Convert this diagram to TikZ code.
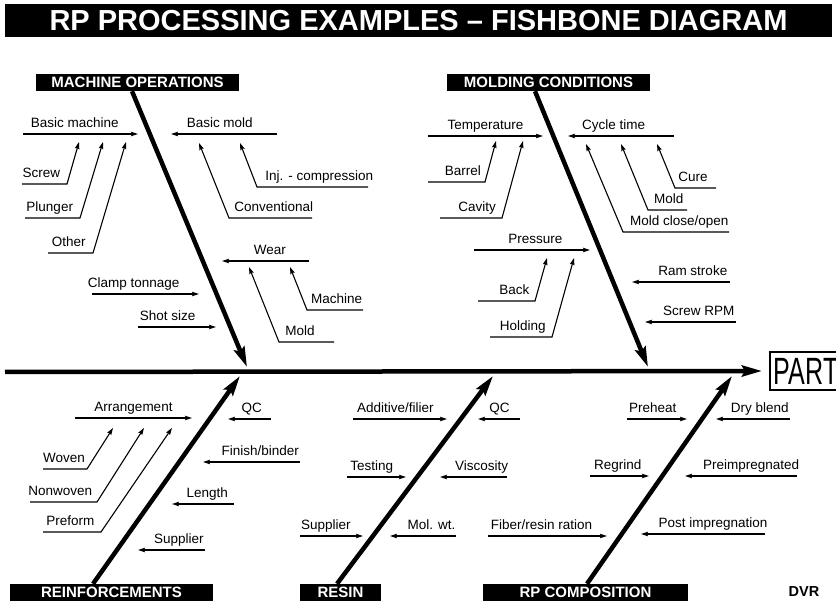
\documentclass[tikz,border=0pt]{standalone}
\usepackage{fontspec}
\setmainfont{Liberation Sans}
\usetikzlibrary{arrows.meta}

\tikzset{
  bone/.style={line width=4.5pt, -{Stealth[length=20pt, width=11pt, inset=3pt]}},
  cause/.style={line width=1.1pt, -{Stealth[length=7pt, width=4.5pt, inset=1pt]}},
  lbl/.style={anchor=base, yshift=6.5pt, inner sep=0pt, font=\fontsize{13.5}{16}\selectfont},
  heading/.style={fill=black, text=white, inner sep=0pt, minimum height=17pt,
    font=\bfseries\fontsize{15}{17}\selectfont},
}

\begin{document}
\begin{tikzpicture}[x=1pt, y=-1pt]
  \useasboundingbox (0,0) rectangle (836,601);

  % Title bar
  \node[heading, minimum width=827pt, minimum height=33pt,
    font=\bfseries\fontsize{29}{32}\selectfont] (title) at (418.5,20.5)
    {RP PROCESSING EXAMPLES -- FISHBONE DIAGRAM};

  % Spine and effect
  \coordinate (tail) at (5,372);
  \node[draw, line width=1.5pt, anchor=west, minimum height=38pt, inner xsep=4pt,
    font=\fontsize{38}{40}\selectfont] (part) at (769,371) {\scalebox{0.66}[1]{PART}};
  \draw[bone] (tail) -- ([xshift=-7pt]part.west);

  % Main categories
  \node[heading, minimum width=203pt] (machine) at (137.5,82.5) {MACHINE OPERATIONS};
  \node[heading, minimum width=203pt] (molding) at (548.5,82.5) {MOLDING CONDITIONS};
  \node[heading, minimum width=203pt] (reinf) at (111.5,592.5) {REINFORCEMENTS};
  \node[heading, minimum width=81pt] (resin) at (340.5,592.5) {RESIN};
  \node[heading, minimum width=205pt] (rpcomp) at (585.5,592.5) {RP COMPOSITION};
  \node[font=\bfseries\fontsize{14.5}{16}\selectfont] (dvr) at (804,592) {DVR};

  \coordinate (machine-tip) at (247,367);
  \coordinate (molding-tip) at (648,367);
  \coordinate (reinf-tip) at (240,376);
  \coordinate (resin-tip) at (493,376);
  \coordinate (rpcomp-tip) at (732,376);

  \draw[bone] ([xshift=-5.5pt]machine.south) -- (machine-tip);
  \draw[bone] ([xshift=-13.5pt]molding.south) -- (molding-tip);
  \draw[bone] ([xshift=-18.5pt]reinf.north) -- (reinf-tip);
  \draw[bone] ([xshift=-3.5pt]resin.north) -- (resin-tip);
  \draw[bone] ([xshift=1.5pt]rpcomp.north) -- (rpcomp-tip);

  % Machine operations
  \coordinate (bm-a) at (23,134); \coordinate (bm-b) at (138,134);
  \draw[cause] (bm-a) -- node[lbl, pos=.45] (bm) {Basic machine} (bm-b);
  \coordinate (scr-a) at (22,184); \coordinate (scr-b) at (67,184); \coordinate (scr-c) at (79,142);
  \draw[cause] (scr-a) -- node[lbl, pos=.43] (scr) {Screw} (scr-b) -- (scr-c);
  \coordinate (plu-a) at (25,218); \coordinate (plu-b) at (80,218); \coordinate (plu-c) at (103,142);
  \draw[cause] (plu-a) -- node[lbl, pos=.45] (plu) {Plunger} (plu-b) -- (plu-c);
  \coordinate (oth-a) at (48,253); \coordinate (oth-b) at (93,253); \coordinate (oth-c) at (126,142);
  \draw[cause] (oth-a) -- node[lbl, pos=.46] (oth) {Other} (oth-b) -- (oth-c);

  \coordinate (bmo-a) at (277,134); \coordinate (bmo-b) at (171,134);
  \draw[cause] (bmo-a) -- node[lbl, pos=.54] (bmo) {Basic mold} (bmo-b);
  \coordinate (inj-a) at (368,187); \coordinate (inj-b) at (257,187); \coordinate (inj-c) at (240,143);
  \draw[cause] (inj-a) -- node[lbl, pos=.44] (inj) {Inj. - compression} (inj-b) -- (inj-c);
  \coordinate (con-a) at (312,218); \coordinate (con-b) at (229,218); \coordinate (con-c) at (199,143);
  \draw[cause] (con-a) -- node[lbl, pos=.46] (con) {Conventional} (con-b) -- (con-c);

  \coordinate (wea-a) at (309,261); \coordinate (wea-b) at (222,261);
  \draw[cause] (wea-a) -- node[lbl, pos=.45] (wea) {Wear} (wea-b);
  \coordinate (wma-a) at (363,310); \coordinate (wma-b) at (307,310); \coordinate (wma-c) at (290,267);
  \draw[cause] (wma-a) -- node[lbl, pos=.47] (wma) {Machine} (wma-b) -- (wma-c);
  \coordinate (wmo-a) at (334,342); \coordinate (wmo-b) at (279,342); \coordinate (wmo-c) at (249,267);
  \draw[cause] (wmo-a) -- node[lbl, pos=.62] (wmo) {Mold} (wmo-b) -- (wmo-c);

  \coordinate (cla-a) at (92,294); \coordinate (cla-b) at (199,294);
  \draw[cause] (cla-a) -- node[lbl, pos=.39] (cla) {Clamp tonnage} (cla-b);
  \coordinate (sho-a) at (138,327); \coordinate (sho-b) at (216,327);
  \draw[cause] (sho-a) -- node[lbl, pos=.38] (sho) {Shot size} (sho-b);

  % Molding conditions
  \coordinate (tem-a) at (428,136); \coordinate (tem-b) at (543,136);
  \draw[cause] (tem-a) -- node[lbl, pos=.5] (tem) {Temperature} (tem-b);
  \coordinate (bar-a) at (428,182); \coordinate (bar-b) at (485,182); \coordinate (bar-c) at (496,141);
  \draw[cause] (bar-a) -- node[lbl, pos=.61] (bar) {Barrel} (bar-b) -- (bar-c);
  \coordinate (cav-a) at (440,218); \coordinate (cav-b) at (502,218); \coordinate (cav-c) at (523,141);
  \draw[cause] (cav-a) -- node[lbl, pos=.6] (cav) {Cavity} (cav-b) -- (cav-c);

  \coordinate (cyc-a) at (674,136); \coordinate (cyc-b) at (568,136);
  \draw[cause] (cyc-a) -- node[lbl, pos=.57] (cyc) {Cycle time} (cyc-b);
  \coordinate (cur-a) at (716,188); \coordinate (cur-b) at (675,188); \coordinate (cur-c) at (657,144);
  \draw[cause] (cur-a) -- node[lbl, pos=.56] (cur) {Cure} (cur-b) -- (cur-c);
  \coordinate (cmo-a) at (687,210); \coordinate (cmo-b) at (648,210); \coordinate (cmo-c) at (621,144);
  \draw[cause] (cmo-a) -- node[lbl, pos=.47] (cmo) {Mold} (cmo-b) -- (cmo-c);
  \coordinate (clo-a) at (729,232); \coordinate (clo-b) at (623,232); \coordinate (clo-c) at (586,144);
  \draw[cause] (clo-a) -- node[lbl, pos=.47] (clo) {Mold close/open} (clo-b) -- (clo-c);

  \coordinate (pre-a) at (474,250); \coordinate (pre-b) at (590,250);
  \draw[cause] (pre-a) -- node[lbl, pos=.53] (pre) {Pressure} (pre-b);
  \coordinate (bac-a) at (478,301); \coordinate (bac-b) at (535,301); \coordinate (bac-c) at (547,258);
  \draw[cause] (bac-a) -- node[lbl, pos=.64] (bac) {Back} (bac-b) -- (bac-c);
  \coordinate (hol-a) at (490,337); \coordinate (hol-b) at (552,337); \coordinate (hol-c) at (574,258);
  \draw[cause] (hol-a) -- node[lbl, pos=.53] (hol) {Holding} (hol-b) -- (hol-c);

  \coordinate (ram-a) at (730,282); \coordinate (ram-b) at (632,282);
  \draw[cause] (ram-a) -- node[lbl, pos=.38] (ram) {Ram stroke} (ram-b);
  \coordinate (rpm-a) at (736,322); \coordinate (rpm-b) at (645,322);
  \draw[cause] (rpm-a) -- node[lbl, pos=.41] (rpm) {Screw RPM} (rpm-b);

  % Reinforcements
  \coordinate (arr-a) at (75,418); \coordinate (arr-b) at (192,418);
  \draw[cause] (arr-a) -- node[lbl, pos=.5] (arr) {Arrangement} (arr-b);
  \coordinate (wov-a) at (43,469); \coordinate (wov-b) at (87,469); \coordinate (wov-c) at (113,428);
  \draw[cause] (wov-a) -- node[lbl, pos=.48] (wov) {Woven} (wov-b) -- (wov-c);
  \coordinate (nwo-a) at (30,502); \coordinate (nwo-b) at (97,502); \coordinate (nwo-c) at (144,428);
  \draw[cause] (nwo-a) -- node[lbl, pos=.45] (nwo) {Nonwoven} (nwo-b) -- (nwo-c);
  \coordinate (pfm-a) at (43,532); \coordinate (pfm-b) at (101,532); \coordinate (pfm-c) at (172,428);
  \draw[cause] (pfm-a) -- node[lbl, pos=.47] (pfm) {Preform} (pfm-b) -- (pfm-c);

  \coordinate (rqc-a) at (271,419); \coordinate (rqc-b) at (228,419);
  \draw[cause] (rqc-a) -- node[lbl, pos=.45] (rqc) {QC} (rqc-b);
  \coordinate (fin-a) at (300,462); \coordinate (fin-b) at (203,462);
  \draw[cause] (fin-a) -- node[lbl, pos=.41] (fin) {Finish/binder} (fin-b);
  \coordinate (len-a) at (234,504); \coordinate (len-b) at (172,504);
  \draw[cause] (len-a) -- node[lbl, pos=.43] (len) {Length} (len-b);
  \coordinate (rsu-a) at (205,550); \coordinate (rsu-b) at (138,550);
  \draw[cause] (rsu-a) -- node[lbl, pos=.39] (rsu) {Supplier} (rsu-b);

  % Resin
  \coordinate (add-a) at (353,419); \coordinate (add-b) at (447,419);
  \draw[cause] (add-a) -- node[lbl, pos=.45] (add) {Additive/filier} (add-b);
  \coordinate (qcr-a) at (520,419); \coordinate (qcr-b) at (478,419);
  \draw[cause] (qcr-a) -- node[lbl, pos=.49] (qcr) {QC} (qcr-b);
  \coordinate (tes-a) at (347,477); \coordinate (tes-b) at (406,477);
  \draw[cause] (tes-a) -- node[lbl, pos=.42] (tes) {Testing} (tes-b);
  \coordinate (vis-a) at (507,477); \coordinate (vis-b) at (440,477);
  \draw[cause] (vis-a) -- node[lbl, pos=.38] (vis) {Viscosity} (vis-b);
  \coordinate (sup-a) at (300,536); \coordinate (sup-b) at (363,536);
  \draw[cause] (sup-a) -- node[lbl, pos=.41] (sup) {Supplier} (sup-b);
  \coordinate (mol-a) at (456,536); \coordinate (mol-b) at (390,536);
  \draw[cause] (mol-a) -- node[lbl, pos=.37] (mol) {Mol. wt.} (mol-b);

  % RP composition
  \coordinate (phe-a) at (627,419); \coordinate (phe-b) at (687,419);
  \draw[cause] (phe-a) -- node[lbl, pos=.43] (phe) {Preheat} (phe-b);
  \coordinate (dry-a) at (790,419); \coordinate (dry-b) at (716,419);
  \draw[cause] (dry-a) -- node[lbl, pos=.41] (dry) {Dry blend} (dry-b);
  \coordinate (reg-a) at (590,476); \coordinate (reg-b) at (649,476);
  \draw[cause] (reg-a) -- node[lbl, pos=.47] (reg) {Regrind} (reg-b);
  \coordinate (pim-a) at (797,476); \coordinate (pim-b) at (685,476);
  \draw[cause] (pim-a) -- node[lbl, pos=.41] (pim) {Preimpregnated} (pim-b);
  \coordinate (fib-a) at (488,536); \coordinate (fib-b) at (607,536);
  \draw[cause] (fib-a) -- node[lbl, pos=.45] (fib) {Fiber/resin ration} (fib-b);
  \coordinate (post-a) at (765,534); \coordinate (post-b) at (641,534);
  \draw[cause] (post-a) -- node[lbl, pos=.42] (post) {Post impregnation} (post-b);
\end{tikzpicture}
\end{document}
